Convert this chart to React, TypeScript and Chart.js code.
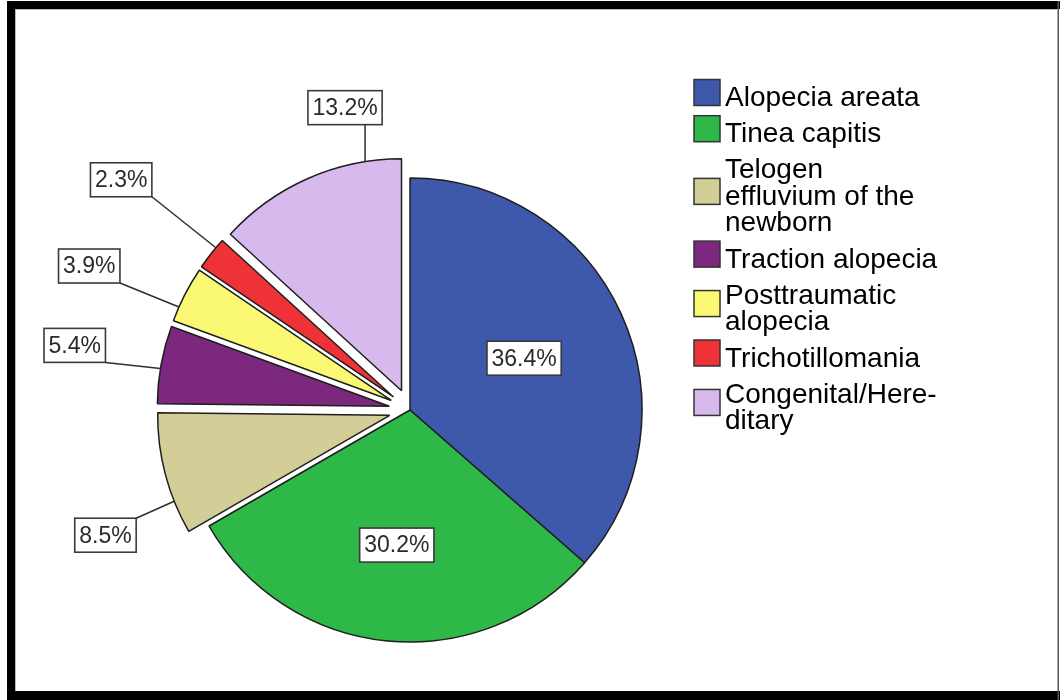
import React, { useEffect, useRef } from "react";
import { Chart, registerables } from "chart.js";

Chart.register(...registerables);

// ---- data ----
const categories = [
  "Alopecia areata",
  "Tinea capitis",
  "Telogen effluvium of the newborn",
  "Traction alopecia",
  "Posttraumatic alopecia",
  "Trichotillomania",
  "Congenital/Hereditary",
];
const legendLines = [
  ["Alopecia areata"],
  ["Tinea capitis"],
  ["Telogen", "effluvium of the", "newborn"],
  ["Traction alopecia"],
  ["Posttraumatic", "alopecia"],
  ["Trichotillomania"],
  ["Congenital/Here-", "ditary"],
];
const percentages = [36.4, 30.2, 8.5, 5.4, 3.9, 2.3, 13.2];
const exploded = [false, false, true, true, true, true, true];

// ---- style ----
const colors = ["#3e58ac", "#2eb848", "#d3ce98", "#7b287e", "#fbf874", "#ee3237", "#d8b9ee"];
const EXPLODE = 21;
const labelPlacement = [
  { inside: true, r: 0.54 },
  { inside: true, r: 0.585 },
  { frac: 0.27, dx: -38, dy: 17, ax: 1, ay: 0 },
  { frac: 0.45, dx: -55, dy: -6, ax: 1, ay: 1 },
  { frac: 0.26, dx: -59, dy: -24, ax: 1, ay: 1 },
  { frac: 0.71, dx: -64, dy: -51, ax: 1, ay: 1 },
  { frac: 0.81, dx: 0, dy: -37, ax: 0.77, ay: 1 },
];
const LABEL_FONT = '23px "Liberation Sans", Arial, sans-serif';
const LEGEND_FONT = '28px "Liberation Sans", Arial, sans-serif';

const explodePlugin = {
  id: "explode",
  afterDatasetsUpdate(chart: any) {
    const meta = chart.getDatasetMeta(0);
    meta.data.forEach((el: any, i: number) => {
      if (exploded[i]) {
        const mid = (el.startAngle + el.endAngle) / 2;
        el.x += EXPLODE * Math.cos(mid);
        el.y += EXPLODE * Math.sin(mid);
      }
    });
  },
};

const framePlugin = {
  id: "frame",
  beforeDraw(chart: any) {
    const ctx = chart.ctx;
    ctx.save();
    ctx.fillStyle = "#ffffff";
    ctx.fillRect(0, 0, chart.width, chart.height);
    ctx.restore();
  },
  afterDraw(chart: any) {
    const ctx = chart.ctx;
    ctx.save();
    ctx.fillStyle = "#000000";
    ctx.fillRect(7, 1, 1053, 8);
    ctx.fillRect(7, 1, 8, 699);
    ctx.fillRect(7, 691, 1053, 9);
    ctx.fillStyle = "#555555";
    ctx.fillRect(1057.5, 1, 1.5, 699);
    ctx.fillStyle = "#bdbdbd";
    ctx.fillRect(15, 9, 1042, 1);
    ctx.fillRect(15, 9, 1, 682);
    ctx.restore();
  },
};

const labelPlugin = {
  id: "sliceLabels",
  afterDatasetsDraw(chart: any) {
    const ctx = chart.ctx;
    const meta = chart.getDatasetMeta(0);
    const values = chart.data.datasets[0].data as number[];
    ctx.save();
    ctx.font = LABEL_FONT;
    ctx.textAlign = "center";
    ctx.textBaseline = "middle";
    meta.data.forEach((el: any, i: number) => {
      const p: any = labelPlacement[i];
      const text = values[i].toFixed(1) + "%";
      const w = ctx.measureText(text).width + 9;
      const h = 34;
      let bx: number, by: number;
      if (p.inside) {
        const mid = (el.startAngle + el.endAngle) / 2;
        const cx = el.x + Math.cos(mid) * el.outerRadius * p.r;
        const cy = el.y + Math.sin(mid) * el.outerRadius * p.r;
        bx = cx - w / 2;
        by = cy - h / 2;
      } else {
        const a = el.startAngle + (el.endAngle - el.startAngle) * p.frac;
        const px = el.x + Math.cos(a) * el.outerRadius;
        const py = el.y + Math.sin(a) * el.outerRadius;
        const ex = px + p.dx;
        const ey = py + p.dy;
        ctx.strokeStyle = "#2e2e2e";
        ctx.lineWidth = 1.5;
        ctx.beginPath();
        ctx.moveTo(px, py);
        ctx.lineTo(ex, ey);
        ctx.stroke();
        bx = ex - p.ax * w;
        by = ey - p.ay * h;
      }
      ctx.fillStyle = "#ffffff";
      ctx.fillRect(bx, by, w, h);
      ctx.strokeStyle = "#3a3a3a";
      ctx.lineWidth = 1.6;
      ctx.strokeRect(bx, by, w, h);
      ctx.fillStyle = "#2a2a2a";
      ctx.fillText(text, bx + w / 2, by + h / 2 + 1);
    });
    ctx.restore();
  },
};

const legendPlugin = {
  id: "customLegend",
  afterDraw(chart: any) {
    const ctx = chart.ctx;
    const ds = chart.data.datasets[0];
    ctx.save();
    ctx.font = LEGEND_FONT;
    ctx.textAlign = "left";
    ctx.textBaseline = "alphabetic";
    const L = 26.5;
    const G = 9.7;
    let baseline = 106;
    legendLines.forEach((lines, i) => {
      const bls = lines.map((_, k) => baseline + k * L);
      const mean = bls.reduce((s, v) => s + v, 0) / bls.length;
      const sc = mean - 13.5;
      ctx.fillStyle = ds.backgroundColor[i];
      ctx.fillRect(694, sc - 13, 26, 26);
      ctx.strokeStyle = "#333333";
      ctx.lineWidth = 1.5;
      ctx.strokeRect(694, sc - 13, 26, 26);
      ctx.fillStyle = "#000000";
      lines.forEach((t, k) => ctx.fillText(t, 725, bls[k]));
      baseline = bls[bls.length - 1] + L + G;
    });
    ctx.restore();
  },
};

export default function App() {
  const ref = useRef<HTMLCanvasElement | null>(null);
  useEffect(() => {
    if (!ref.current) return;
    const chart = new Chart(ref.current, {
      type: "pie",
      data: {
        labels: categories,
        datasets: [
          {
            data: percentages,
            backgroundColor: colors,
            borderColor: "#1e1e1e",
            borderWidth: 1.5,
            radius: 232,
          } as any,
        ],
      },
      options: {
        responsive: false,
        animation: false,
        events: [],
        layout: { padding: { left: 0, right: 240, top: 120, bottom: 0 } },
        plugins: {
          legend: { display: false },
          tooltip: { enabled: false },
        },
      } as any,
      plugins: [framePlugin, explodePlugin, labelPlugin, legendPlugin],
    });
    return () => chart.destroy();
  }, []);
  return (
    <div style={{ position: "absolute", left: 0, top: 0, width: 1060, height: 700, background: "#fff" }}>
      <canvas ref={ref} width={1060} height={700} style={{ display: "block", width: 1060, height: 700 }} />
    </div>
  );
}
